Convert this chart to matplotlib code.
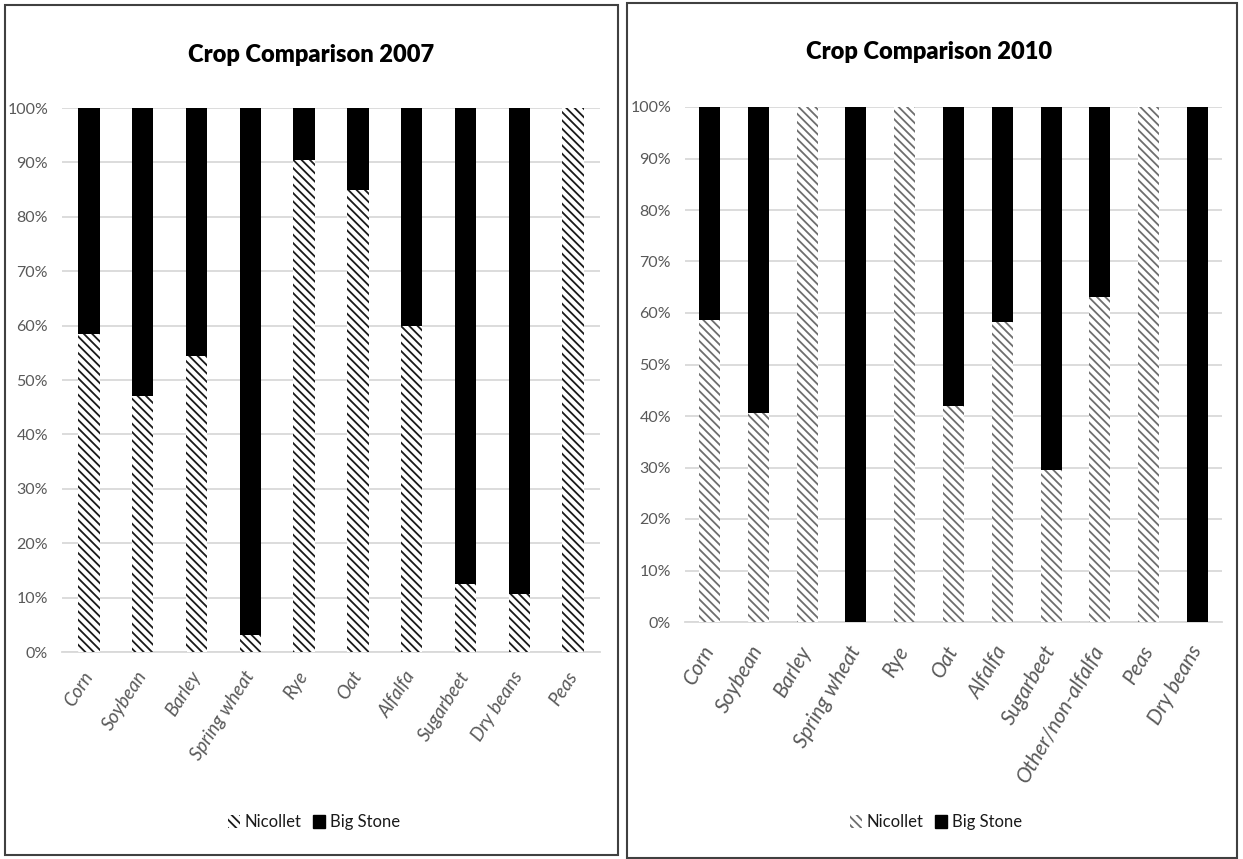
import matplotlib
matplotlib.use("Agg")
import matplotlib.pyplot as plt
from matplotlib.patches import Rectangle, Patch
from matplotlib.ticker import PercentFormatter
import numpy as np

plt.rcParams['font.family'] = ['Lato', 'DejaVu Sans']
plt.rcParams['hatch.linewidth'] = 1.3

crops_2007 = ["Corn", "Soybean", "Barley", "Spring wheat", "Rye", "Oat", "Alfalfa",
              "Sugarbeet", "Dry beans", "Peas"]
nicollet_2007 = [58.5, 47.1, 54.5, 3.1, 90.5, 85.0, 60.0, 12.5, 10.7, 100.0]
bigstone_2007 = [100 - v for v in nicollet_2007]

crops_2010 = ["Corn", "Soybean", "Barley", "Spring wheat", "Rye", "Oat", "Alfalfa",
              "Sugarbeet", "Other/non-alfalfa", "Peas", "Dry beans"]
nicollet_2010 = [58.6, 40.6, 100.0, 0.0, 100.0, 41.9, 58.3, 29.5, 63.1, 100.0, 0.0]
bigstone_2010 = [100 - v for v in nicollet_2010]

W, H = 1243, 859
fig = plt.figure(figsize=(W / 100, H / 100), dpi=100)


def fx(x):
    return x / W


def fy(y):
    return 1 - y / H


# panel borders
fig.patches.append(Rectangle((fx(5), fy(855)), fx(618) - fx(5), fy(5) - fy(855),
                             transform=fig.transFigure, fill=False, edgecolor='#404040', lw=1.5))
fig.patches.append(Rectangle((fx(627), fy(858)), fx(1237) - fx(627), fy(3) - fy(858),
                             transform=fig.transFigure, fill=False, edgecolor='#404040', lw=1.5))

TICK_COLOR = '#595959'
GRID_COLOR = '#d9d9d9'
HATCH = '\\\\\\\\'


def draw(ax, cats, nic, big, width, hatch_color, title, title_xy, leg_xy,
         xl_size, xl_rot, xl_pad):
    x = np.arange(len(cats))
    nic = np.array(nic) / 100
    big = np.array(big) / 100
    ax.bar(x, nic, width, facecolor='white', edgecolor=hatch_color, hatch=HATCH, linewidth=0,
           zorder=3)
    ax.bar(x, big, width, bottom=nic, color='black', linewidth=0, zorder=3)
    ax.set_xlim(-0.5, len(cats) - 0.5)
    ax.set_ylim(0, 1)
    ax.grid(axis='y', color=GRID_COLOR, lw=1.3, zorder=0)
    for s in ['top', 'right', 'left']:
        ax.spines[s].set_visible(False)
    ax.spines['bottom'].set_color(GRID_COLOR)
    ax.spines['bottom'].set_linewidth(1.3)
    ax.tick_params(axis='both', length=0, colors=TICK_COLOR, labelsize=11.5)
    ax.tick_params(axis='y', pad=10)
    ax.tick_params(axis='x', pad=xl_pad)
    ax.set_yticks(np.arange(0, 1.01, 0.1))
    ax.yaxis.set_major_formatter(PercentFormatter(1.0, decimals=0))
    ax.set_xticks(x)
    ax.set_xticklabels(cats, rotation=xl_rot, ha='right', va='center', rotation_mode='anchor',
                       fontsize=xl_size, color=TICK_COLOR, fontstyle='italic')
    fig.text(fx(title_xy[0]), fy(title_xy[1]), title, ha='center', va='center',
             fontsize=17, fontweight='heavy', color='black')
    handles = [Patch(facecolor='white', edgecolor=hatch_color, hatch=HATCH, linewidth=0,
                     label='Nicollet'),
               Patch(facecolor='black', edgecolor='black', label='Big Stone')]
    fig.legend(handles=handles, loc='center', bbox_to_anchor=(fx(leg_xy[0]), fy(leg_xy[1])),
               ncol=2, frameon=False, fontsize=12, handlelength=0.7, handleheight=0.8,
               handletextpad=0.3, columnspacing=0.7, labelcolor='#1a1a1a')


ax1 = fig.add_axes([fx(62), fy(652), fx(600) - fx(62), fy(108) - fy(652)])
draw(ax1, crops_2007, nicollet_2007, bigstone_2007, 0.4, '#1a1a1a',
     'Crop Comparison 2007', (311, 55), (314, 822), 13.5, 57, 15)

ax2 = fig.add_axes([fx(685), fy(622), fx(1222) - fx(685), fy(107) - fy(622)])
draw(ax2, crops_2010, nicollet_2010, bigstone_2010, 0.43, '#6e6e6e',
     'Crop Comparison 2010', (929, 52), (936, 822), 15, 60, 18)

fig.savefig('out.png', dpi=100, facecolor='white')
